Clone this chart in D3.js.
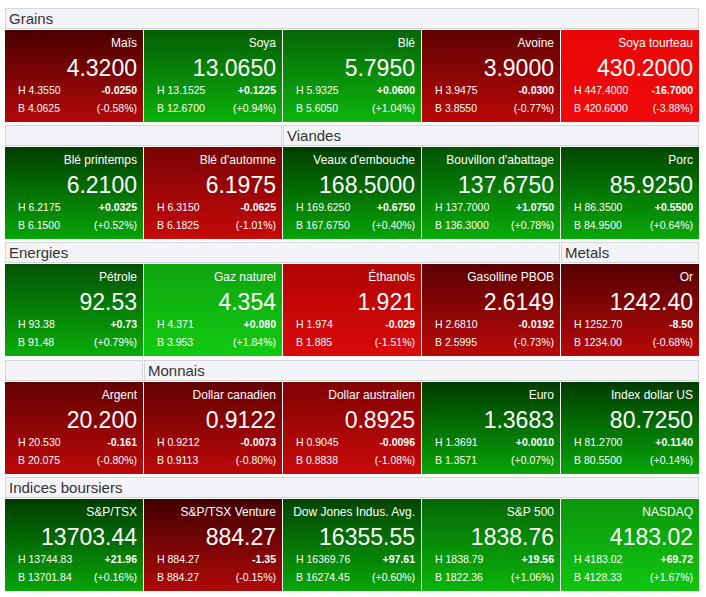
<!DOCTYPE html>
<html><head><meta charset="utf-8">
<script src="https://cdn.jsdelivr.net/npm/d3@7"></script>
<style>body{margin:0;background:#fff;font-family:"Liberation Sans",Arial,sans-serif}</style>
</head><body><div id="board"></div>
<script>
// section headers per row: [start column, span, title]
const headers = [
  [[0, 5, "Grains"]],
  [[0, 2, ""], [2, 3, "Viandes"]],
  [[0, 4, "Energies"], [4, 1, "Metals"]],
  [[0, 1, ""], [1, 4, "Monnais"]],
  [[0, 5, "Indices boursiers"]]
];
const names = [
  ["Maïs", "Soya", "Blé", "Avoine", "Soya tourteau"],
  ["Blé printemps", "Blé d'automne", "Veaux d'embouche", "Bouvillon d'abattage", "Porc"],
  ["Pétrole", "Gaz naturel", "Éthanols", "Gasolline PBOB", "Or"],
  ["Argent", "Dollar canadien", "Dollar australien", "Euro", "Index dollar US"],
  ["S&P/TSX", "S&P/TSX Venture", "Dow Jones Indus. Avg.", "S&P 500", "NASDAQ"]
];
const prices = [
  ["4.3200", "13.0650", "5.7950", "3.9000", "430.2000"],
  ["6.2100", "6.1975", "168.5000", "137.6750", "85.9250"],
  ["92.53", "4.354", "1.921", "2.6149", "1242.40"],
  ["20.200", "0.9122", "0.8925", "1.3683", "80.7250"],
  ["13703.44", "884.27", "16355.55", "1838.76", "4183.02"]
];
const highs = [
  ["4.3550", "13.1525", "5.9325", "3.9475", "447.4000"],
  ["6.2175", "6.3150", "169.6250", "137.7000", "86.3500"],
  ["93.38", "4.371", "1.974", "2.6810", "1252.70"],
  ["20.530", "0.9212", "0.9045", "1.3691", "81.2700"],
  ["13744.83", "884.27", "16369.76", "1838.79", "4183.02"]
];
const lows = [
  ["4.0625", "12.6700", "5.6050", "3.8550", "420.6000"],
  ["6.1500", "6.1825", "167.6750", "136.3000", "84.9500"],
  ["91.48", "3.953", "1.885", "2.5995", "1234.00"],
  ["20.075", "0.9113", "0.8838", "1.3571", "80.5500"],
  ["13701.84", "884.27", "16274.45", "1822.36", "4128.33"]
];
const changes = [
  ["-0.0250", "+0.1225", "+0.0600", "-0.0300", "-16.7000"],
  ["+0.0325", "-0.0625", "+0.6750", "+1.0750", "+0.5500"],
  ["+0.73", "+0.080", "-0.029", "-0.0192", "-8.50"],
  ["-0.161", "-0.0073", "-0.0096", "+0.0010", "+0.1140"],
  ["+21.96", "-1.35", "+97.61", "+19.56", "+69.72"]
];
const pcts = [
  [-0.58, 0.94, 1.04, -0.77, -3.88],
  [0.52, -1.01, 0.40, 0.78, 0.64],
  [0.79, 1.84, -1.51, -0.73, -0.68],
  [-0.80, -0.80, -1.08, 0.07, 0.14],
  [0.16, -0.15, 0.60, 1.06, 1.67]
];

const W = 706, H = 597;
const x0 = 5, colW = 139, tileH = 92, headH = 21;
const rowTop = [8, 125, 242, 360, 477];

const svg = d3.select("#board").append("svg").attr("width", W).attr("height", H);
const defs = svg.append("defs");

const col = d3.scaleLinear().domain([0, 5]).range([x0, x0 + colW * 5]);
const intensity = d3.scaleLinear().domain([0.5, 2]).range([0, 1]).clamp(true);
const fmtPct = p => "(" + (p >= 0 ? "+" : "") + p.toFixed(2) + "%)";

headers.forEach((hs, r) => {
  hs.forEach(([c, span, title]) => {
    const g = svg.append("g").attr("transform", `translate(${col(c)},${rowTop[r]})`);
    g.append("rect").attr("x", 0.5).attr("y", 0.5)
      .attr("width", colW * span - 2).attr("height", headH - 1)
      .attr("fill", "#f3f4f7").attr("stroke", "#d4d6da");
    g.append("text").attr("x", 4).attr("y", 16).attr("font-size", 15)
      .attr("fill", "#333").text(title);
  });
});

names.forEach((row, r) => {
  row.forEach((name, c) => {
    const p = pcts[r][c], t = intensity(Math.abs(p)), up = p >= 0;
    const top = up ? d3.interpolateRgb("#003c00", "#10b010")(t) : d3.interpolateRgb("#400000", "#e80606")(t);
    const bot = up ? d3.interpolateRgb("#07a407", "#12d012")(t) : d3.interpolateRgb("#b00808", "#ee0a0a")(t);
    const id = `gr${r}_${c}`;
    const lg = defs.append("linearGradient").attr("id", id).attr("x1", 0).attr("y1", 0).attr("x2", 0).attr("y2", 1);
    lg.append("stop").attr("offset", 0).attr("stop-color", top);
    lg.append("stop").attr("offset", 1).attr("stop-color", bot);

    const y = rowTop[r] + headH + 1;
    const g = svg.append("g").attr("transform", `translate(${col(c)},${y})`).attr("fill", "#fff");
    g.append("rect").attr("width", colW - 1).attr("height", tileH).attr("fill", `url(#${id})`);
    const rx = colW - 7;
    g.append("text").attr("x", rx).attr("y", 17).attr("text-anchor", "end").attr("font-size", 12).text(name);
    g.append("text").attr("x", rx).attr("y", 46).attr("text-anchor", "end").attr("font-size", 23).text(prices[r][c]);
    g.append("text").attr("x", 13).attr("y", 64).attr("font-size", 10.5).text("H " + highs[r][c]);
    g.append("text").attr("x", 13).attr("y", 82).attr("font-size", 10.5).text("B " + lows[r][c]);
    g.append("text").attr("x", rx).attr("y", 64).attr("text-anchor", "end").attr("font-size", 10.5).attr("font-weight", "bold").text(changes[r][c]);
    g.append("text").attr("x", rx).attr("y", 82).attr("text-anchor", "end").attr("font-size", 10.5).text(fmtPct(p));
  });
});
</script></body></html>
